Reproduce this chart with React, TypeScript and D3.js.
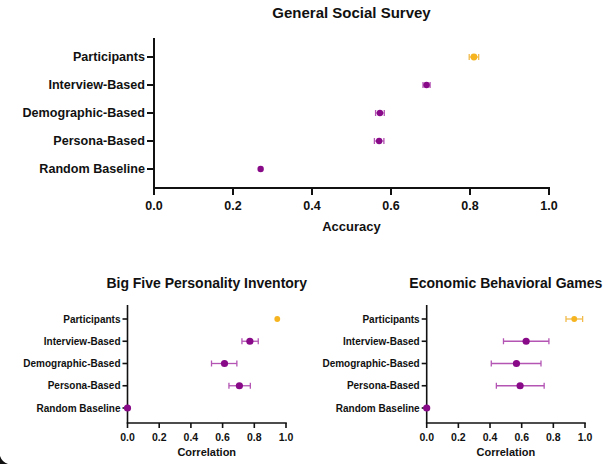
import React from "react";
import * as d3 from "d3";

const categories = [
  "Participants",
  "Interview-Based",
  "Demographic-Based",
  "Persona-Based",
  "Random Baseline",
];

// General Social Survey (accuracy)
const gssMean = [0.81, 0.69, 0.572, 0.57, 0.27];
const gssLow = [0.798, 0.681, 0.561, 0.558, 0.27];
const gssHigh = [0.822, 0.699, 0.583, 0.582, 0.27];

// Big Five Personality Inventory (correlation)
const bigFiveMean = [0.945, 0.772, 0.612, 0.706, 0];
const bigFiveLow = [0.945, 0.722, 0.53, 0.64, 0];
const bigFiveHigh = [0.945, 0.825, 0.69, 0.775, 0];

// Economic Behavioral Games (correlation)
const econMean = [0.932, 0.628, 0.567, 0.59, 0];
const econLow = [0.88, 0.485, 0.408, 0.44, 0];
const econHigh = [0.985, 0.772, 0.722, 0.742, 0];

const xTicks = [0, 0.2, 0.4, 0.6, 0.8, 1.0];

const PURPLE = "#880a88";
const PURPLE_BAR = "#b455b4";
const ORANGE = "#f6b520";
const ORANGE_BAR = "#f2bb4c";
const FONT = "'Liberation Sans', Arial, sans-serif";

interface PanelProps {
  title: string;
  xLabel: string;
  mean: number[];
  low: number[];
  high: number[];
  x0: number;
  x1: number;
  rowTop: number;
  rowBottom: number;
  axisTop: number;
  axisY: number;
  titleY: number;
  tickLabelY: number;
  xLabelY: number;
  titleSize: number;
  catSize: number;
  tickSize: number;
  xLabelSize: number;
  axisWidth: number;
  tickLen: number;
  dotR: number;
  partR: number;
  cap: number;
}

function Panel(p: PanelProps) {
  const x = d3.scaleLinear().domain([0, 1]).range([p.x0, p.x1]);
  const y = d3.scalePoint<string>().domain(categories).range([p.rowTop, p.rowBottom]);

  return (
    <g fontFamily={FONT} fontWeight="bold" fill="#111">
      <text
        x={(p.x0 + p.x1) / 2}
        y={p.titleY}
        textAnchor="middle"
        dominantBaseline="central"
        fontSize={p.titleSize}
      >
        {p.title}
      </text>

      {/* y axis */}
      <line x1={p.x0} x2={p.x0} y1={p.axisTop} y2={p.axisY} stroke="#111" strokeWidth={p.axisWidth} />
      {categories.map((c) => (
        <g key={c}>
          <line x1={p.x0 - p.tickLen} x2={p.x0} y1={y(c)} y2={y(c)} stroke="#111" strokeWidth={p.axisWidth} />
          <text
            x={p.x0 - p.tickLen - 2}
            y={y(c)}
            textAnchor="end"
            dominantBaseline="central"
            fontSize={p.catSize}
          >
            {c}
          </text>
        </g>
      ))}

      {/* x axis */}
      <line
        x1={p.x0 - p.axisWidth / 2}
        x2={p.x1 + p.axisWidth / 2}
        y1={p.axisY}
        y2={p.axisY}
        stroke="#111"
        strokeWidth={p.axisWidth}
      />
      {xTicks.map((t) => (
        <g key={t}>
          <line x1={x(t)} x2={x(t)} y1={p.axisY} y2={p.axisY + p.tickLen} stroke="#111" strokeWidth={p.axisWidth} />
          <text x={x(t)} y={p.tickLabelY} textAnchor="middle" dominantBaseline="central" fontSize={p.tickSize}>
            {t.toFixed(1)}
          </text>
        </g>
      ))}
      <text
        x={(p.x0 + p.x1) / 2}
        y={p.xLabelY}
        textAnchor="middle"
        dominantBaseline="central"
        fontSize={p.xLabelSize}
      >
        {p.xLabel}
      </text>

      {/* error bars and points */}
      {categories.map((c, i) => {
        const cy = y(c) as number;
        const isPart = i === 0;
        const barColor = isPart ? ORANGE_BAR : PURPLE_BAR;
        const hasBar = p.high[i] - p.low[i] > 0.001;
        return (
          <g key={c}>
            {hasBar && (
              <g stroke={barColor} strokeWidth={1.3} fill="none">
                <line x1={x(p.low[i])} x2={x(p.high[i])} y1={cy} y2={cy} />
                <line x1={x(p.low[i])} x2={x(p.low[i])} y1={cy - p.cap / 2} y2={cy + p.cap / 2} />
                <line x1={x(p.high[i])} x2={x(p.high[i])} y1={cy - p.cap / 2} y2={cy + p.cap / 2} />
              </g>
            )}
            <circle cx={x(p.mean[i])} cy={cy} r={isPart ? p.partR : p.dotR} fill={isPart ? ORANGE : PURPLE} />
          </g>
        );
      })}
    </g>
  );
}

export default function App() {
  return (
    <svg
      width={610}
      height={464}
      style={{ position: "absolute", left: 0, top: 0, background: "#fff" }}
    >
      <Panel
        title="General Social Survey"
        xLabel="Accuracy"
        mean={gssMean}
        low={gssLow}
        high={gssHigh}
        x0={154}
        x1={549}
        rowTop={57}
        rowBottom={169}
        axisTop={38}
        axisY={188}
        titleY={12}
        tickLabelY={206}
        xLabelY={226}
        titleSize={15}
        catSize={12.6}
        tickSize={12.5}
        xLabelSize={13}
        axisWidth={2}
        tickLen={7}
        dotR={3.2}
        partR={3.4}
        cap={6}
      />
      <Panel
        title="Big Five Personality Inventory"
        xLabel="Correlation"
        mean={bigFiveMean}
        low={bigFiveLow}
        high={bigFiveHigh}
        x0={127.5}
        x1={286}
        rowTop={319}
        rowBottom={408}
        axisTop={305}
        axisY={423}
        titleY={283}
        tickLabelY={437}
        xLabelY={452}
        titleSize={14}
        catSize={10}
        tickSize={10.5}
        xLabelSize={11}
        axisWidth={1.6}
        tickLen={5}
        dotR={3.6}
        partR={2.9}
        cap={6}
      />
      <Panel
        title="Economic Behavioral Games"
        xLabel="Correlation"
        mean={econMean}
        low={econLow}
        high={econHigh}
        x0={426.7}
        x1={585}
        rowTop={319}
        rowBottom={408}
        axisTop={305}
        axisY={423}
        titleY={283}
        tickLabelY={437}
        xLabelY={452}
        titleSize={14}
        catSize={10}
        tickSize={10.5}
        xLabelSize={11}
        axisWidth={1.6}
        tickLen={5}
        dotR={3.6}
        partR={2.9}
        cap={6}
      />
      {/* dark corner in the bottom-left of the screenshot */}
      <path d="M0,456 Q2,462 8,464 L0,464 Z" fill="#111" />
    </svg>
  );
}
